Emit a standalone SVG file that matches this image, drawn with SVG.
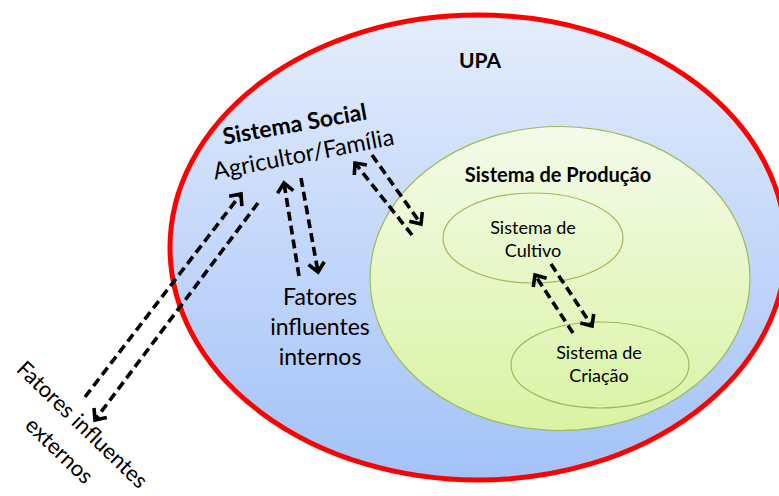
<svg xmlns="http://www.w3.org/2000/svg" width="779" height="496" viewBox="0 0 779 496">
  <defs>
    <linearGradient id="gBlue" x1="0" y1="0" x2="0" y2="1">
      <stop offset="0" stop-color="#e4edfc"/>
      <stop offset="1" stop-color="#a3c2f8"/>
    </linearGradient>
    <linearGradient id="gGreen" x1="0" y1="0" x2="0" y2="1">
      <stop offset="0" stop-color="#f4fbe9"/>
      <stop offset="1" stop-color="#d9f3a3"/>
    </linearGradient>
    <marker id="ah" markerUnits="userSpaceOnUse" viewBox="-20 -20 40 40" markerWidth="40" markerHeight="40" refX="0" refY="0" orient="auto">
      <path d="M-9,-8 L0,0 L-9,8" fill="none" stroke="#000" stroke-width="3.6" stroke-dasharray="none" stroke-linejoin="miter"/>
    </marker>
    <style>
      .t { font-family: Lato, "Open Sans", "Liberation Sans", sans-serif; fill: #000; }
      .b { font-weight: bold; }
      .inner { fill: none; stroke: #9bbb59; stroke-width: 1.2; }
      .conn line { stroke: #000; stroke-width: 3.6; stroke-dasharray: 9 5; fill: none; marker-end: url(#ah); }
    </style>
  </defs>

  <g id="upa">
    <ellipse cx="478" cy="247.5" rx="308" ry="232.5" fill="url(#gBlue)" stroke="#ff0000" stroke-width="5"/>
    <text class="t b" x="480" y="68" text-anchor="middle" font-size="21">UPA</text>
  </g>

  <g id="sistema-producao">
    <ellipse cx="560" cy="278.5" rx="190" ry="152" fill="url(#gGreen)" stroke="#9bbb59" stroke-width="1.2"/>
    <text class="t b" x="558" y="182" text-anchor="middle" font-size="20">Sistema de Produção</text>
  </g>

  <g id="sistema-cultivo">
    <ellipse class="inner" cx="533" cy="238" rx="90" ry="45"/>
    <text class="t" x="533" y="234" text-anchor="middle" font-size="18">Sistema de</text>
    <text class="t" x="533" y="257" text-anchor="middle" font-size="18">Cultivo</text>
  </g>

  <g id="sistema-criacao">
    <ellipse class="inner" cx="600" cy="365" rx="89" ry="43"/>
    <text class="t" x="599" y="359" text-anchor="middle" font-size="18">Sistema de</text>
    <text class="t" x="599" y="382" text-anchor="middle" font-size="18">Criação</text>
  </g>

  <g id="sistema-social">
    <text class="t b" x="296" y="132" text-anchor="middle" font-size="23" transform="rotate(-10 296 132)">Sistema Social</text>
    <text class="t" x="305" y="162" text-anchor="middle" font-size="23.5" transform="rotate(-11 305 162)">Agricultor/Família</text>
  </g>

  <g id="fatores-internos">
    <text class="t" x="320" y="305" text-anchor="middle" font-size="23">Fatores</text>
    <text class="t" x="320" y="335" text-anchor="middle" font-size="23">influentes</text>
    <text class="t" x="320" y="365" text-anchor="middle" font-size="23">internos</text>
  </g>

  <g id="fatores-externos">
    <text class="t" x="77" y="430" text-anchor="middle" font-size="22" transform="rotate(44 77 430)">Fatores influentes</text>
    <text class="t" x="54" y="456" text-anchor="middle" font-size="22" transform="rotate(44 54 456)">externos</text>
  </g>

  <g id="connectors" class="conn">
    <line x1="85" y1="397" x2="241" y2="194"/>
    <line x1="258" y1="203" x2="95" y2="420"/>
    <line x1="299" y1="276" x2="284" y2="183"/>
    <line x1="301" y1="178" x2="318" y2="272"/>
    <line x1="412" y1="235" x2="355" y2="163"/>
    <line x1="372" y1="155" x2="421" y2="224"/>
    <line x1="573" y1="333" x2="535" y2="275"/>
    <line x1="551" y1="264" x2="592" y2="326"/>
  </g>
</svg>
